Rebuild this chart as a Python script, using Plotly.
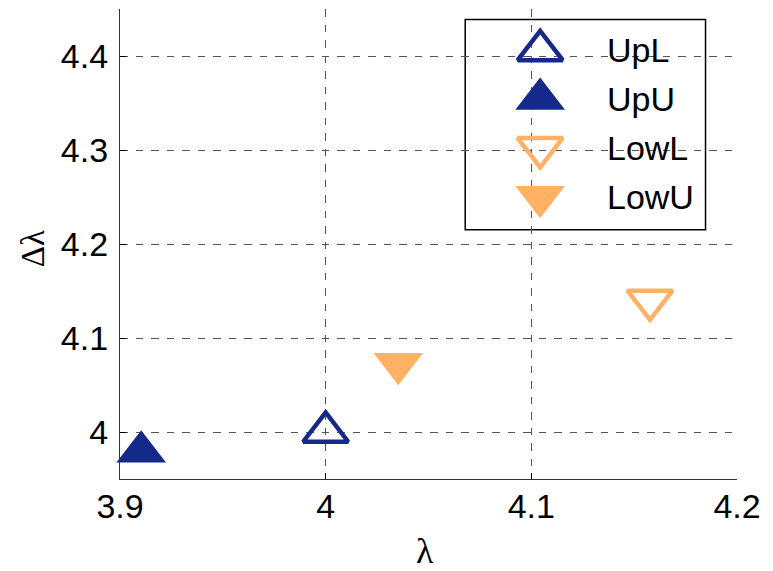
import plotly.graph_objects as go

# ---- data ----
series_names = ["UpL", "UpU", "LowL", "LowU"]
x_vals = [[4.0], [3.9103], [4.1577], [4.0353]]
y_vals = [[4.0], [3.979], [4.140], [4.0725]]
x_ticks = [3.9, 4.0, 4.1, 4.2]
x_ticktext = ["3.9", "4", "4.1", "4.2"]
y_ticks = [4.0, 4.1, 4.2, 4.3, 4.4]
y_ticktext = ["4", "4.1", "4.2", "4.3", "4.4"]
x_title = "λ"
y_title = "Δλ"

# ---- styles ----
NAVY = "#15298A"
ORANGE = "#FFB266"
symbols = ["triangle-up-open", "triangle-up", "triangle-down-open", "triangle-down"]
colors = [NAVY, NAVY, ORANGE, ORANGE]
sizes = [39, 43, 39, 43]
lws = [4.5, 0, 4.5, 0]

W, H = 773, 571
L, R, T, B = 119.5, 36, 9, 91.5
px0, px1 = L, W - R
py0, py1 = T, H - B


def to_paper(px, py):
    return (px - px0) / (px1 - px0), (py1 - py) / (py1 - py0)


fig = go.Figure()
for i, name in enumerate(series_names):
    fig.add_trace(go.Scatter(
        x=x_vals[i], y=y_vals[i], mode="markers", name=name, showlegend=False,
        cliponaxis=False,
        marker=dict(symbol=symbols[i], size=sizes[i], color=colors[i],
                    line=dict(width=lws[i], color=colors[i])),
        xaxis="x", yaxis="y"))

# ---- custom legend on overlay axes in pixel units ----
leg_x0, leg_x1, leg_y0, leg_y1 = 465, 705.5, 19.5, 230
leg_mx, leg_tx = 540, 605
row_y = [50.5, 99, 148, 197]
for i, name in enumerate(series_names):
    fig.add_trace(go.Scatter(
        x=[leg_mx], y=[row_y[i]], mode="markers", showlegend=False, hoverinfo="skip",
        cliponaxis=False,
        marker=dict(symbol=symbols[i], size=sizes[i], color=colors[i],
                    line=dict(width=lws[i], color=colors[i])),
        xaxis="x2", yaxis="y2"))
    fig.add_annotation(x=leg_tx, y=row_y[i], xref="x2", yref="y2", text=name,
                       showarrow=False, xanchor="left", yanchor="middle",
                       font=dict(family="Liberation Sans, Arial", size=34, color="black"))
fig.add_shape(type="rect", xref="x2", yref="y2", x0=leg_x0, x1=leg_x1, y0=leg_y0, y1=leg_y1,
              line=dict(color="black", width=1.5), fillcolor="white", layer="below")

# ---- axis titles ----
ax, ay = to_paper(424.5, 552)
fig.add_annotation(x=ax, y=ay, xref="paper", yref="paper", text=x_title, showarrow=False,
                   xanchor="center", yanchor="middle",
                   font=dict(family="Liberation Serif", size=36, color="black"))
bx, by = to_paper(32.5, 249.5)
fig.add_annotation(x=bx, y=by, xref="paper", yref="paper", text=y_title, showarrow=False,
                   xanchor="center", yanchor="middle", textangle=-90,
                   font=dict(family="Liberation Serif", size=33, color="black"))

grid = dict(showgrid=True, gridcolor="#555555", gridwidth=1, griddash="7.5px,8px")
fig.update_layout(
    width=W, height=H,
    margin=dict(l=L, r=R, t=T, b=B, pad=0, autoexpand=False),
    paper_bgcolor="white", plot_bgcolor="white",
    font=dict(family="Liberation Sans, Arial", size=34, color="black"),
    xaxis=dict(range=[3.9, 4.2], tickvals=x_ticks, ticktext=x_ticktext,
               ticks="inside", ticklen=6, tickcolor="black",
               showline=True, linecolor="#333", linewidth=1.2, mirror=False,
               zeroline=False, ticklabelstandoff=-3, automargin=False,
               **grid),
    yaxis=dict(range=[3.95, 4.45], tickvals=y_ticks, ticktext=y_ticktext,
               ticks="inside", ticklen=6, tickcolor="black",
               showline=True, linecolor="#333", linewidth=1.2, mirror=False,
               zeroline=False, ticklabelstandoff=4, automargin=False,
               **grid),
    xaxis2=dict(range=[px0, px1], overlaying="x", visible=False, showgrid=False),
    yaxis2=dict(range=[py1, py0], overlaying="y", visible=False, showgrid=False),
)

fig.write_html("out.html", config={"displayModeBar": False},
               post_script="document.body.style.margin='0';")
